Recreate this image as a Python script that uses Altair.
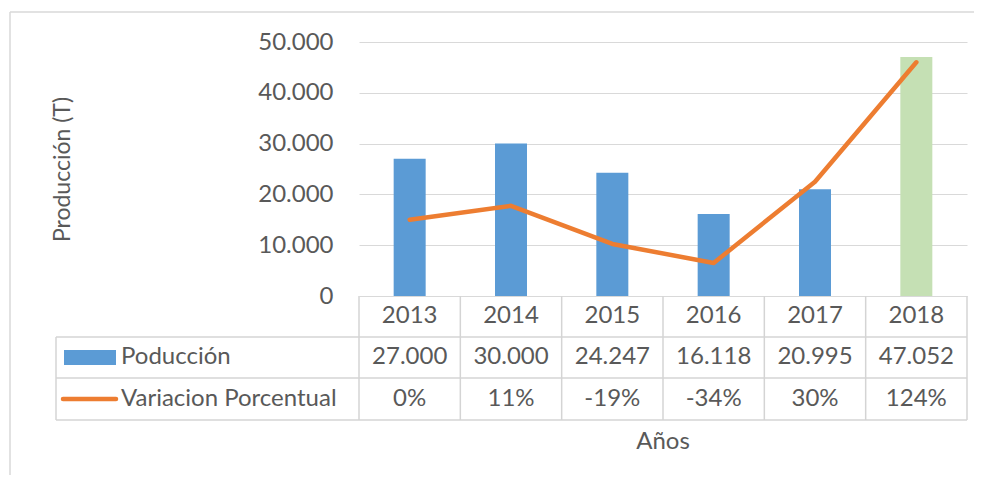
import altair as alt
import pandas as pd

years = [2013, 2014, 2015, 2016, 2017, 2018]
produccion = [27000, 30000, 24247, 16118, 20995, 47052]
variacion = [0, 11, -19, -34, 30, 124]
y_ticks = [0, 10000, 20000, 30000, 40000, 50000]

FONT = "Lato"
FS = 24
TXT = "#595959"
GRID = "#d9d9d9"
BLUE = "#5B9BD5"
GREEN = "#C5E0B4"
ORANGE = "#ED7D31"

W, H = 608, 254

df = pd.DataFrame({
    "year": years,
    "prod": produccion,
    "var": variacion,
    "year_label": [str(y) for y in years],
    "prod_label": [f"{v:,}".replace(",", ".") for v in produccion],
    "var_label": [f"{v}%" for v in variacion],
})
bounds = pd.DataFrame({"b": [y - 0.5 for y in years] + [years[-1] + 0.5]})

xs = alt.Scale(domain=[years[0] - 0.5, years[-1] + 0.5], padding=0, nice=False, zero=False)
X = alt.X("year:Q", scale=xs, axis=None)

bars = alt.Chart(df).mark_bar(size=32).encode(
    x=X,
    y=alt.Y("prod:Q", scale=alt.Scale(domain=[0, 50000]),
            axis=alt.Axis(values=y_ticks, grid=True, gridColor=GRID, gridWidth=1,
                          domain=False, ticks=False, labelPadding=26,
                          labelExpr="replace(format(datum.value, ','), ',', '.')",
                          labelFont=FONT, labelFontSize=FS, labelColor=TXT,
                          title="Producción (T)", titleFont=FONT, titleFontSize=23,
                          titleFontWeight="normal", titleColor=TXT,
                          titleX=-297, titleY=H / 2, titleAngle=-90,
                          titleAlign="center", titleBaseline="middle")),
    color=alt.condition(alt.datum.year == 2018, alt.value(GREEN), alt.value(BLUE)),
)

line = alt.Chart(df).mark_line(color=ORANGE, strokeWidth=4.5, strokeCap="round",
                               strokeJoin="round").encode(
    x=X,
    y=alt.Y("var:Q", scale=alt.Scale(domain=[-60, 140]), axis=None),
)

def row_text(field, yv):
    return alt.Chart(df).mark_text(font=FONT, fontSize=FS, color=TXT,
                                   baseline="middle", align="center").encode(
        x=X, y=alt.value(yv), text=f"{field}:N")

t_years = row_text("year_label", 274)
t_prod = row_text("prod_label", 315)
t_var = row_text("var_label", 357)

base_rule = alt.Chart(df.head(1))
TC = "#d4d4d4"
hrules = [
    base_rule.mark_rule(color=TC, strokeWidth=1.5).encode(
        x=alt.value(-303), x2=alt.value(W), y=alt.value(yv))
    for yv in (295, 336, 378)
]
left_v = base_rule.mark_rule(color=TC, strokeWidth=1.5).encode(
    x=alt.value(-303), y=alt.value(295), y2=alt.value(378))
vrules = alt.Chart(bounds).mark_rule(color=TC, strokeWidth=1.5).encode(
    x=alt.X("b:Q", scale=xs, axis=None), y=alt.value(H), y2=alt.value(378))

sw_bar = base_rule.mark_rect(color=BLUE).encode(
    x=alt.value(-295), x2=alt.value(-243), y=alt.value(308), y2=alt.value(323))
sw_line = base_rule.mark_rule(color=ORANGE, strokeWidth=4.5, strokeCap="round").encode(
    x=alt.value(-296), x2=alt.value(-243), y=alt.value(357))

leg1 = base_rule.mark_text(font=FONT, fontSize=FS, color=TXT, align="left",
                           baseline="middle").encode(
    x=alt.value(-238), y=alt.value(315), text=alt.value("Poducción"))
leg2 = base_rule.mark_text(font=FONT, fontSize=FS, color=TXT, align="left",
                           baseline="middle").encode(
    x=alt.value(-238), y=alt.value(357), text=alt.value("Variacion Porcentual"))
x_title = base_rule.mark_text(font=FONT, fontSize=FS, color=TXT, align="center",
                              baseline="middle").encode(
    x=alt.value(W / 2), y=alt.value(400), text=alt.value("Años"))

frame_top = base_rule.mark_rule(color=GRID, strokeWidth=1.5).encode(
    x=alt.value(-349), x2=alt.value(620), y=alt.value(-30))
frame_left = base_rule.mark_rule(color=GRID, strokeWidth=1.5).encode(
    x=alt.value(-349), y=alt.value(-30), y2=alt.value(460))

chart = alt.layer(
    frame_top, frame_left, bars, line, *hrules, left_v, vrules,
    t_years, t_prod, t_var, sw_bar, sw_line, leg1, leg2, x_title
).resolve_scale(y="independent").properties(
    width=W, height=H,
    autosize=alt.AutoSizeParams(type="none"),
    padding={"left": 351, "top": 34, "right": 7, "bottom": 179},
    background="white",
).configure_view(stroke=None)

chart.save("out.html", embed_options={"renderer": "svg", "actions": False})
